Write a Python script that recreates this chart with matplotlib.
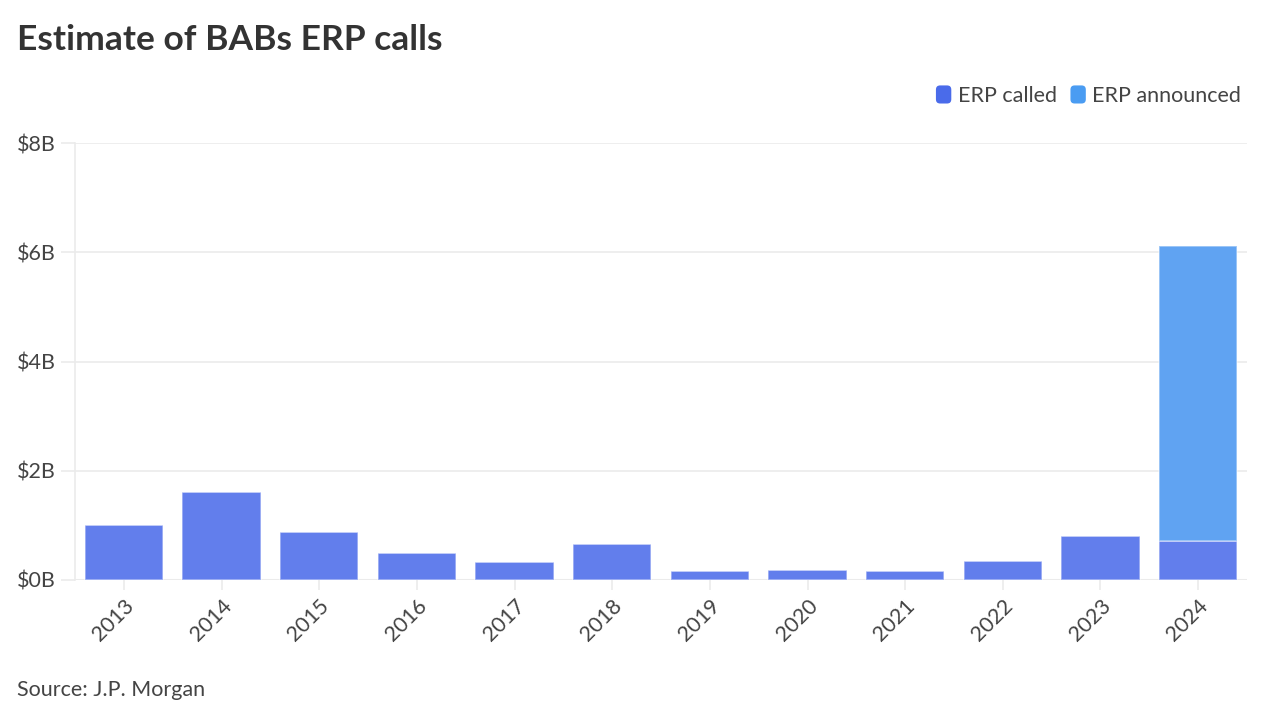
import matplotlib
matplotlib.use("Agg")
import matplotlib.pyplot as plt
from matplotlib.patches import FancyBboxPatch, Patch
from matplotlib.legend_handler import HandlerPatch

years = ["2013", "2014", "2015", "2016", "2017", "2018", "2019", "2020", "2021", "2022", "2023", "2024"]
erp_called = [1.01, 1.61, 0.88, 0.49, 0.33, 0.66, 0.17, 0.19, 0.16, 0.34, 0.81, 0.71]
erp_announced = [0, 0, 0, 0, 0, 0, 0, 0, 0, 0, 0, 5.40]
y_ticks = [0, 2, 4, 6, 8]
y_labels = ["$0B", "$2B", "$4B", "$6B", "$8B"]

plt.rcParams['font.family'] = ['Lato', 'DejaVu Sans']

C_CALLED = "#627EEC"
C_ANN = "#60A3F2"
TEXT = "#444444"
FS = 15.5

fig = plt.figure(figsize=(12.8, 7.2), dpi=100)
ax = fig.add_axes([75/1280, 1-580/720, (1247-75)/1280, (580-143)/720])

x = list(range(len(years)))
ax.bar(x, erp_called, width=0.8, color=C_CALLED, edgecolor=(1, 1, 1, 0.45), linewidth=1.2, zorder=3)
ax.bar(x, erp_announced, bottom=erp_called, width=0.8, color=C_ANN, edgecolor=(1, 1, 1, 0.45), linewidth=1.2, zorder=3)

ax.set_xlim(-0.5, len(years) - 0.5)
ax.set_ylim(0, 8)
ax.set_yticks(y_ticks)
ax.set_yticklabels(y_labels)
ax.set_xticks(x)
ax.set_xticklabels(years, rotation=45, ha="right", rotation_mode="anchor")

ax.grid(axis="y", color="#EBEBEB", linewidth=1.2, zorder=0)
for s in ["top", "right", "bottom"]:
    ax.spines[s].set_visible(False)
ax.spines["left"].set_color("#EBEBEB")
ax.spines["left"].set_linewidth(1.2)
ax.axhline(0, color="#EBEBEB", linewidth=1.5, zorder=1)
ax.tick_params(axis="y", length=10, width=1.2, color="#EBEBEB", labelsize=FS, labelcolor=TEXT, pad=4)
ax.tick_params(axis="x", length=7, width=1.2, color="#EBEBEB", labelsize=FS, labelcolor=TEXT, pad=4)

fig.text(17/1280, 1-40/720, "Estimate of BABs ERP calls", fontsize=25.5, fontweight="bold", color="#333333", va="center", ha="left")
fig.text(17/1280, 1-690/720, "Source: J.P. Morgan", fontsize=FS, color=TEXT, va="center", ha="left")


class RoundHandler(HandlerPatch):
    def create_artists(self, legend, orig_handle, xdescent, ydescent, width, height, fontsize, trans):
        h = height * 1.2
        w = h * 0.85
        p = FancyBboxPatch((-xdescent + (width - w) / 2, -ydescent - (h - height) / 2), w, h,
                           boxstyle="round,pad=0,rounding_size=3",
                           facecolor=orig_handle.get_facecolor(), edgecolor="none", transform=trans)
        return [p]


handles = [Patch(facecolor="#4A6BEA", label="ERP called"), Patch(facecolor="#4A9CF2", label="ERP announced")]
leg = fig.legend(handles=handles, loc="center right", bbox_to_anchor=(1241/1280, 1-96/720), ncol=2,
                 frameon=False, fontsize=FS, handlelength=0.8, handletextpad=0.25, columnspacing=0.6,
                 handler_map={Patch: RoundHandler()}, borderaxespad=0, borderpad=0)
for t in leg.get_texts():
    t.set_color(TEXT)

fig.savefig("out.png", dpi=100, facecolor="white")
